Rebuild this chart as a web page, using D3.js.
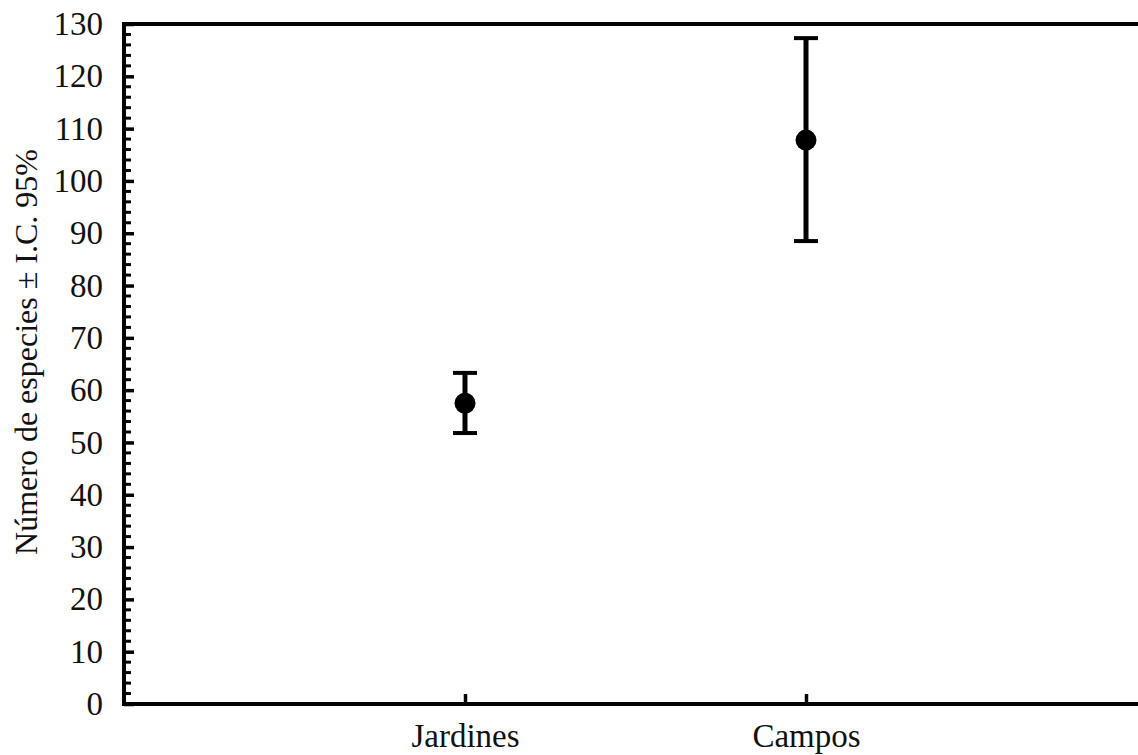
<!DOCTYPE html>
<html lang="es">
<head>
  <meta charset="UTF-8">
  <title>Número de especies</title>
  <script src="https://cdn.jsdelivr.net/npm/d3@7"></script>
  <style>
    body { margin: 0; background: #fff; }
    text { font-family: "Liberation Serif", "Times New Roman", serif; fill: #111; }
  </style>
</head>
<body>
  <script>
  // Data
  var categories = ["Jardines", "Campos"];
  var means = [57.5, 107.8];
  var lower = [51.8, 88.5];
  var upper = [63.3, 127.3];
  var yTicks = [0, 10, 20, 30, 40, 50, 60, 70, 80, 90, 100, 110, 120, 130];

  var w = 1138, h = 755;
  var plotLeft = 124, plotTop = 24, plotBottom = 704, plotRight = 1147;

  var svg = d3.select("body").append("svg")
    .attr("width", w).attr("height", h);

  var x = d3.scalePoint()
    .domain(categories)
    .range([plotLeft, plotRight])
    .padding(1);

  var y = d3.scaleLinear()
    .domain([0, 130])
    .range([plotBottom, plotTop]);

  // frame (left, top, bottom)
  svg.append("path")
    .attr("d", "M" + plotRight + "," + plotTop + "H" + plotLeft + "V" + plotBottom + "H" + plotRight)
    .attr("fill", "none")
    .attr("stroke", "#000")
    .attr("stroke-width", 4);

  // minor ticks on y every 2
  var minor = d3.range(0, 131, 2).filter(function(v) { return v % 10 != 0; });
  svg.selectAll(".minor")
    .data(minor)
    .enter().append("line")
    .attr("x1", plotLeft).attr("x2", plotLeft + 7)
    .attr("y1", function(d) { return y(d); })
    .attr("y2", function(d) { return y(d); })
    .attr("stroke", "#000").attr("stroke-width", 3);

  // y axis (ticks inside)
  var yAxis = d3.axisLeft(y)
    .tickValues(yTicks)
    .tickSize(-10)
    .tickPadding(21);
  var gy = svg.append("g")
    .attr("transform", "translate(" + plotLeft + ",0)")
    .call(yAxis);
  gy.select(".domain").remove();
  gy.selectAll("line").attr("stroke", "#000").attr("stroke-width", 3.5);
  gy.selectAll("text")
    .attr("font-size", 33)
    .attr("font-family", "Liberation Serif, serif")
    .attr("fill", "#111");

  // x axis (ticks inside)
  var xAxis = d3.axisBottom(x).tickSize(-10).tickPadding(20);
  var gx = svg.append("g")
    .attr("transform", "translate(0," + plotBottom + ")")
    .call(xAxis);
  gx.select(".domain").remove();
  gx.selectAll("line").attr("stroke", "#000").attr("stroke-width", 3.5);
  gx.selectAll("text")
    .attr("font-size", 33)
    .attr("font-family", "Liberation Serif, serif")
    .attr("fill", "#111");

  // y axis title
  svg.append("text")
    .attr("transform", "translate(37," + 352 + ") rotate(-90)")
    .attr("text-anchor", "middle")
    .attr("font-size", 32)
    .text("Número de especies ± I.C. 95%");

  // error bars and means
  var g = svg.selectAll(".pt")
    .data(categories)
    .enter().append("g");

  g.append("line")
    .attr("x1", function(d) { return x(d); })
    .attr("x2", function(d) { return x(d); })
    .attr("y1", function(d, i) { return y(lower[i]); })
    .attr("y2", function(d, i) { return y(upper[i]); })
    .attr("stroke", "#000").attr("stroke-width", 5);

  [lower, upper].forEach(function(arr) {
    g.append("line")
      .attr("x1", function(d) { return x(d) - 12; })
      .attr("x2", function(d) { return x(d) + 12; })
      .attr("y1", function(d, i) { return y(arr[i]); })
      .attr("y2", function(d, i) { return y(arr[i]); })
      .attr("stroke", "#000").attr("stroke-width", 4);
  });

  g.append("circle")
    .attr("cx", function(d) { return x(d); })
    .attr("cy", function(d, i) { return y(means[i]); })
    .attr("r", 10.5)
    .attr("fill", "#000");
  </script>
</body>
</html>
